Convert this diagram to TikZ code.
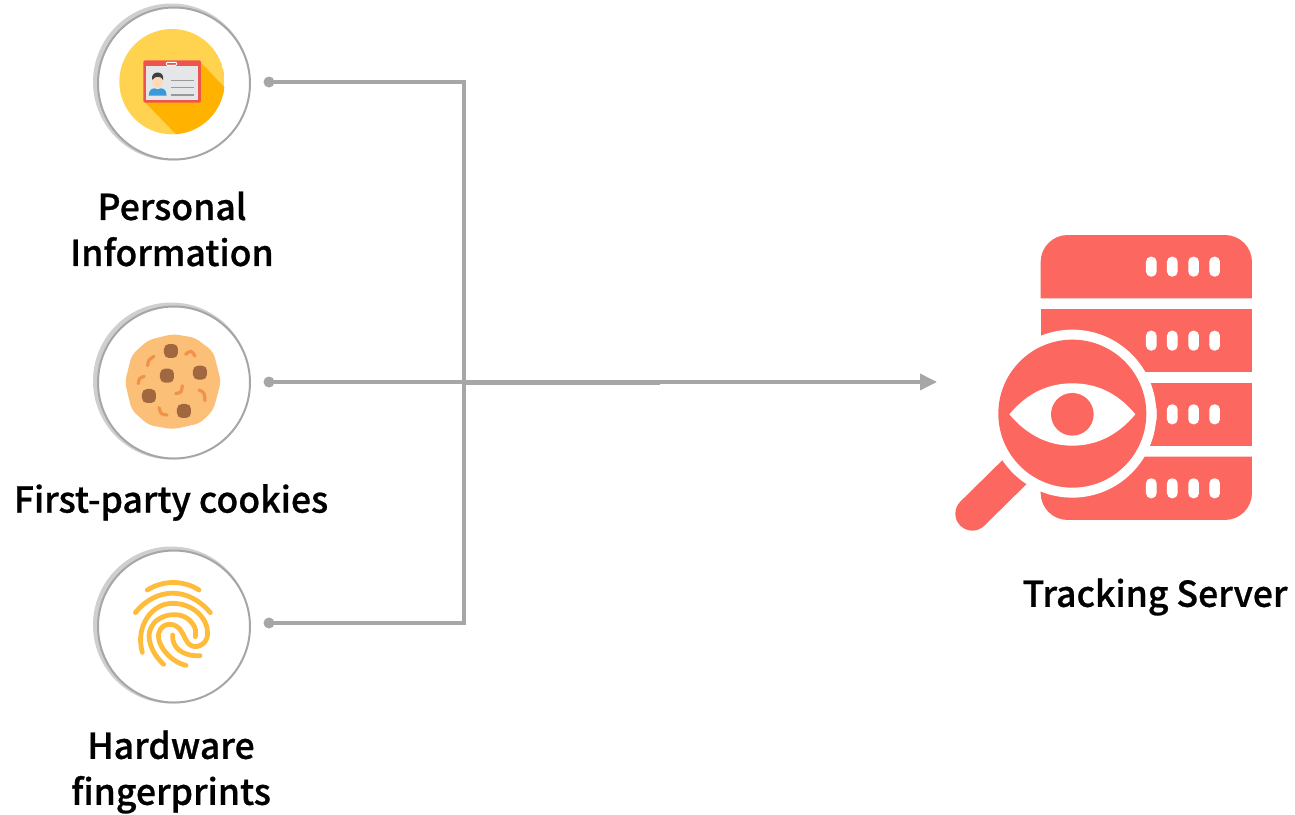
\documentclass[tikz,border=0pt]{standalone}
\usepackage{fontspec}
\usepackage{xcolor}
\setmainfont{Noto Sans CJK KR Medium}[FakeBold=0.7]
\usetikzlibrary{positioning}
\usetikzlibrary{arrows.meta}

\definecolor{wireGray}{HTML}{A6A6A6}
\definecolor{ringLight}{HTML}{CFCFCF}
\definecolor{serverRed}{HTML}{FC6860}
\definecolor{badgeYellow}{HTML}{FFD34F}
\definecolor{badgeShade}{HTML}{FFB300}
\definecolor{cardRed}{HTML}{EF5350}
\definecolor{cardGray}{HTML}{E4E6E8}
\definecolor{cookieBase}{HTML}{FBBF77}
\definecolor{cookieChip}{HTML}{A1673F}
\definecolor{cookieCrumb}{HTML}{F2914A}
\definecolor{printYellow}{HTML}{FFBC3B}

\tikzset{
  labeltext/.style={font=\fontsize{35.6}{46}\selectfont, align=center, text=black, inner sep=0pt},
  wire/.style={draw=wireGray, line width=3.6pt},
  startdot/.style={circle, fill=wireGray, minimum size=11pt, inner sep=0pt},
  zoomed/.style={x=0.3333pt, y=-0.3333pt},
}

\begin{document}
\begin{tikzpicture}[x=1pt, y=-1pt]
\useasboundingbox (0,0) rectangle (1295,814);

% rings
\foreach \name/\cy in {ringInfo/82, ringCookie/381, ringPrint/625}{
  \fill[ringLight] (171.5,\cy) circle (78.5);
  \node[circle, draw=wireGray, fill=white, line width=2pt, minimum size=152pt, inner sep=0pt]
    (\name) at (174,\cy+1.5) {};
}

% id card badge
\begin{scope}[shift={(85,0)}, zoomed]
\coordinate (B) at (261,245);
\begin{scope}
  \clip (B) circle (158);
  \fill[badgeYellow] (B) circle (158);
  \fill[badgeShade] (345,185)--(430,274)--(430,420)--(290,420)--(178,305)--cycle;
\end{scope}
\fill[cardRed, rounded corners=2pt] (175,181) rectangle (348,308);
\fill[cardGray] (184,198) rectangle (338,300);
\draw[white, line width=1pt, rounded corners=1pt] (244,187) rectangle (275,196);
\fill[orange!30!white] (218,242) ellipse (15 and 21);
\fill[black!75] (202,240) .. controls (194,210) and (242,210) .. (234,240) .. controls (230,228) and (210,226) .. (202,240) -- cycle;
\fill[cyan!70!blue!80] (191,287) .. controls (191,268) and (205,260) .. (218,268) .. controls (232,260) and (245,268) .. (245,287) -- cycle;
\foreach \ly in {241,263,285}
  \draw[black!40, line width=1.6pt] (258,\ly) -- (328,\ly);
\end{scope}

% cookie
\begin{scope}[shift={(85,295)}, zoomed]
\fill[cookieBase, rounded corners=6pt] (264,117)--(330,128)--(385,170)--(408,260)--(385,345)--(345,385)--(264,403)--(190,390)--(140,345)--(120,262)--(140,180)--(190,135)--cycle;
\foreach \cx/\cz in {258/168, 345/233, 246/242, 192/303, 297/348}
  \fill[cookieChip, rounded corners=5pt] (\cx-21,\cz-21) rectangle (\cx+21,\cz+21);
\draw[cookieCrumb, line width=3.2pt, line cap=round]
  (188,212) .. controls (190,195) .. (207,184)
  (160,266) .. controls (162,250) .. (178,244)
  (302,178) .. controls (318,165) .. (330,183)
  (272,296) .. controls (290,292) .. (292,272)
  (342,285) .. controls (358,292) .. (360,317)
  (222,338) .. controls (228,358) .. (246,360);
\end{scope}

% fingerprint
\begin{scope}[shift={(85,540)}, zoomed]
\draw[printYellow, line width=4.8pt, line cap=round]
  (187,150) .. controls (235,120) and (295,120) .. (342,150)
  (151,218) .. controls (215,140) and (310,140) .. (376,218)
  (172,337) .. controls (150,260) and (200,190) .. (262,190) .. controls (325,190) and (368,235) .. (368,280) .. controls (368,310) and (340,325) .. (322,318) .. controls (300,310) and (300,285) .. (285,268) .. controls (270,250) and (240,245) .. (225,270) .. controls (205,300) and (250,365) .. (303,376)
  (236,373) .. controls (200,340) and (180,290) .. (200,260) .. controls (215,225) and (290,205) .. (322,250) .. controls (335,265) and (332,280) .. (331,290)
  (263,285) .. controls (260,320) and (290,350) .. (345,347);
\end{scope}

% server and magnifier
\begin{scope}[shift={(940,225)}, zoomed]
\fill[serverRed, rounded corners=27pt] (302,220) -- (302,30) -- (936,30) [sharp corners] -- (936,220) -- cycle;
\fill[serverRed] (302,252) rectangle (936,441);
\fill[serverRed] (302,474) rectangle (936,663);
\fill[serverRed, rounded corners=27pt] (302,695) -- (302,885) -- (936,885) [sharp corners] -- (936,695) -- cycle;
\foreach \ry in {125,347,568,790}
  \foreach \rx in {634,697,761,824}
    \fill[white, rounded corners=5pt] (\rx-16,\ry-30) rectangle (\rx+16,\ry+30);
\coordinate (M) at (397,566);
\draw[serverRed, line width=34pt, line cap=round] (230,735) -- (97,866);
\fill[white] (M) circle (252);
\fill[serverRed] (M) circle (222);
\fill[white] (208,568) .. controls (265,500) and (330,475) .. (397,475) .. controls (465,475) and (530,500) .. (586,568) .. controls (530,635) and (465,662) .. (397,662) .. controls (330,662) and (265,635) .. (208,568) -- cycle;
\fill[serverRed] (397,568) circle (64);
\end{scope}

% connectors
\node[startdot] (dotInfo) at (269,82) {};
\node[startdot] (dotCookie) at (269,382) {};
\node[startdot] (dotPrint) at (269,623) {};
\coordinate (cornerTop) at (464,82);
\coordinate (cornerBottom) at (464,623);
\coordinate (joint) at (464,383.5);
\coordinate (jointEnd) at (660,383.5);
\coordinate (serverIn) at (937,382);

\draw[wire] (dotInfo.center) -- (cornerTop) -- (cornerBottom) -- (dotPrint.center);
\draw[wire, -{Triangle[length=17pt,width=16pt]}] (dotCookie.center) -- (serverIn);
\draw[wire] (joint) -- (jointEnd);

% labels
\node[labeltext] (labelInfo) at (172,229) {Personal\\Information};
\node[labeltext] (labelCookie) at (171,502.5) {First-party cookies};
\node[labeltext] (labelPrint) at (171,772) {Hardware\\fingerprints};
\node[labeltext] (labelServer) at (1155,597) {Tracking Server};
\end{tikzpicture}
\end{document}
